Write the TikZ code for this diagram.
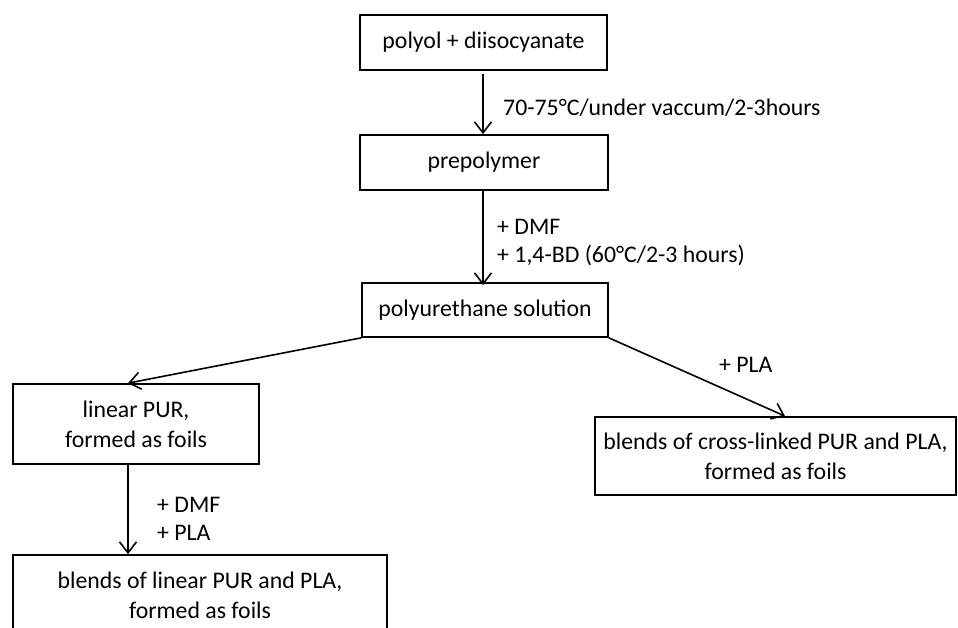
\documentclass[tikz,border=0pt]{standalone}
\usepackage{fontspec}
\setmainfont{Carlito}
\usepackage{xcolor}
\usetikzlibrary{arrows.meta}

\begin{document}
\begin{tikzpicture}[x=1pt, y=-1pt,
    stage/.style={draw, line width=1.7pt, inner sep=0pt, align=center, font=\fontsize{23.8}{30}\selectfont},
    note/.style={inner sep=0pt, anchor=west, align=left, font=\fontsize{23.8}{28}\selectfont},
    flow/.style={line width=1.6pt, -{Straight Barb[length=11pt, width=17pt, line width=1.6pt]}}]
    \useasboundingbox (0,0) rectangle (958,628);
    \clip (0,0) rectangle (958,628);

    \node[stage, minimum width=247pt, minimum height=55pt] (mix) at (483.5,42.5) {polyol + diisocyanate};
    \node[stage, minimum width=248pt, minimum height=55pt] (prepoly) at (484,162.5) {prepolymer};
    \node[stage, minimum width=246pt, minimum height=54pt] (solution) at (485,310) {polyurethane solution};
    \node[stage, minimum width=246pt, minimum height=80pt] (linear) at (136,424) {linear PUR,\\formed as foils};
    \node[stage, minimum width=361pt, minimum height=78pt] (crossblend) at (775.5,456) {blends of cross-linked PUR and PLA,\\formed as foils};
    \node[stage, minimum width=374pt, minimum height=80pt] (linblend) at (200,595) {blends of linear PUR and PLA,\\formed as foils};

    \draw[flow] ([xshift=-0.5pt, yshift=-3pt]mix.south) -- ([xshift=-1pt]prepoly.north);
    \draw[flow] ([xshift=-1pt]prepoly.south) -- ([xshift=-2pt, yshift=-3pt]solution.north);
    \draw[flow] (solution.south west) -- ([xshift=-8pt]linear.north);
    \draw[flow] (solution.south east) -- ([xshift=9.5pt]crossblend.north);
    \draw[flow] ([xshift=-8pt]linear.south) -- ([xshift=-72pt]linblend.north);

    \node[note] (cond1) at (503,108) {70-75°C/under vaccum/2-3hours};
    \node[note] (cond2) at (497,243) {+ DMF\\+ 1,4-BD (60°C/2-3 hours)};
    \node[note] (cond3) at (719,365) {+ PLA};
    \node[note] (cond4) at (157,519) {+ DMF\\+ PLA};
\end{tikzpicture}
\end{document}
